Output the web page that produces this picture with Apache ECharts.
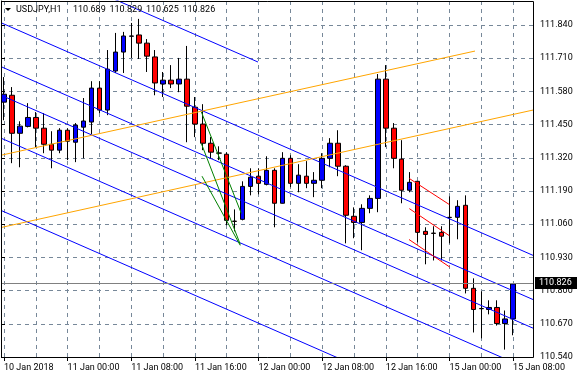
<!DOCTYPE html>
<html>
<head>
<meta charset="utf-8">
<script src="https://cdn.jsdelivr.net/npm/echarts@6/dist/echarts.min.js"></script>
<style>html,body{margin:0;padding:0;background:#fff}#c{width:577px;height:379px}</style>
</head>
<body>
<div id="c"></div>
<script>
const symbolName = 'USDJPY,H1';
const categories = [
'10 Jan 2018','10 Jan 17:00','10 Jan 18:00','10 Jan 19:00','10 Jan 20:00','10 Jan 21:00','10 Jan 22:00','10 Jan 23:00',
'11 Jan 00:00','11 Jan 01:00','11 Jan 02:00','11 Jan 03:00','11 Jan 04:00','11 Jan 05:00','11 Jan 06:00','11 Jan 07:00',
'11 Jan 08:00','11 Jan 09:00','11 Jan 10:00','11 Jan 11:00','11 Jan 12:00','11 Jan 13:00','11 Jan 14:00','11 Jan 15:00',
'11 Jan 16:00','11 Jan 17:00','11 Jan 18:00','11 Jan 19:00','11 Jan 20:00','11 Jan 21:00','11 Jan 22:00','11 Jan 23:00',
'12 Jan 00:00','12 Jan 01:00','12 Jan 02:00','12 Jan 03:00','12 Jan 04:00','12 Jan 05:00','12 Jan 06:00','12 Jan 07:00',
'12 Jan 08:00','12 Jan 09:00','12 Jan 10:00','12 Jan 11:00','12 Jan 12:00','12 Jan 13:00','12 Jan 14:00','12 Jan 15:00',
'12 Jan 16:00','12 Jan 17:00','12 Jan 18:00','12 Jan 19:00','12 Jan 20:00','12 Jan 21:00','12 Jan 22:00','12 Jan 23:00',
'15 Jan 00:00','15 Jan 01:00','15 Jan 02:00','15 Jan 03:00','15 Jan 04:00','15 Jan 05:00','15 Jan 06:00','15 Jan 07:00',
'15 Jan 08:00','',''
];
const openP = [
111.538,111.565,111.416,111.443,111.478,111.436,111.373,111.350,111.428,111.381,
111.440,111.460,111.593,111.507,111.660,111.734,111.796,111.801,111.769,111.715,
111.609,111.624,111.609,111.628,111.518,111.452,111.377,111.339,111.334,111.072,
111.079,111.208,111.248,111.216,111.271,111.142,111.318,111.220,111.248,111.220,
111.232,111.318,111.377,111.287,111.091,111.067,111.122,111.161,111.628,111.436,
111.315,111.193,111.228,111.032,111.025,111.028,111.087,111.087,111.134,110.809,
110.730,110.726,110.734,110.671,110.689];
const highP = [
111.636,111.597,111.463,111.534,111.499,111.495,111.424,111.436,111.436,111.456,
111.554,111.620,111.620,111.742,111.809,111.813,111.848,111.864,111.785,111.742,
111.656,111.683,111.711,111.758,111.558,111.530,111.401,111.365,111.342,111.118,
111.228,111.279,111.279,111.326,111.279,111.342,111.330,111.295,111.307,111.264,
111.338,111.397,111.428,111.291,111.126,111.138,111.173,111.648,111.683,111.456,
111.389,111.264,111.228,111.048,111.052,111.052,111.169,111.154,111.173,110.848,
110.797,110.762,110.762,110.722,110.829];
const lowP = [
111.467,111.299,111.283,111.439,111.362,111.338,111.279,111.338,111.311,111.303,
111.318,111.413,111.495,111.487,111.652,111.652,111.711,111.707,111.656,111.565,
111.558,111.593,111.577,111.381,111.401,111.350,111.318,111.311,111.056,111.032,
111.075,111.173,111.177,111.212,111.048,111.141,111.205,111.185,111.201,111.166,
111.201,111.283,111.248,110.985,111.005,110.958,111.103,111.107,111.362,111.279,
111.142,111.185,110.989,110.903,110.918,110.918,110.985,111.001,110.789,110.636,
110.613,110.707,110.663,110.569,110.625];
const closeP = [
111.569,111.416,111.444,111.478,111.436,111.373,111.350,111.428,111.385,111.448,
111.464,111.593,111.507,111.667,111.734,111.797,111.797,111.769,111.718,111.613,
111.624,111.609,111.628,111.522,111.452,111.377,111.342,111.338,111.075,111.071,
111.208,111.244,111.220,111.271,111.142,111.318,111.220,111.252,111.220,111.232,
111.318,111.377,111.287,111.095,111.067,111.122,111.161,111.628,111.436,111.318,
111.193,111.224,111.028,111.020,111.024,111.013,111.086,111.130,110.809,110.726,
110.729,110.734,110.671,110.689,110.826];
const yTicks = ['110.540','110.670','110.800','110.930','111.060','111.190','111.320','111.450','111.580','111.710','111.840'];
const yMin = 110.540, yMax = 111.934, yStep = 0.13;
// drawn objects: [barIndex, price] endpoints
const blueLines = [
  [[0,112.135],[32.125,111.695]],
  [[0,111.849],[66.5,110.938]],
  [[0,111.677],[66.5,110.765]],
  [[0,111.565],[66.5,110.653]],
  [[0,111.397],[66.5,110.485]],
  [[0,111.114],[66.5,110.202]]
];
const orangeLines = [
  [[0,111.330],[59.25,111.738]],
  [[0,111.047],[66.5,111.507]]
];
const greenLines = [
  [[25.04,111.500],[30.04,111.102]],
  [[25.04,111.376],[29.91,110.981]],
  [[25.125,111.248],[29.91,110.977]]
];
const redLines = [
  [[51.04,111.239],[56.04,111.137]],
  [[51.04,111.121],[56.04,111.015]],
  [[51.0,111.000],[56.1,110.892]]
];

const FONT = 'Roboto';
const GRIDC = '#778899';
const candleData = openP.map((o,i)=>[o, closeP[i], lowP[i], highP[i]]);
const last = openP.length - 1;
const headerVals = [openP[last], highP[last], lowP[last], closeP[last]].map(v=>v.toFixed(3));

function lineSeries(lines, color, withMark) {
  return lines.map((pts, k) => {
    const s = {
      type:'line', xAxisIndex:1, yAxisIndex:1, data:pts, showSymbol:false, symbol:'none',
      clip:true, silent:true, z:4, animation:false,
      lineStyle:{color:color, width:1}
    };
    if (withMark && k === 1) {
      s.markLine = {
        silent:true, symbol:'none', animation:false,
        lineStyle:{color:'#808080', type:'solid', width:1},
        label:{show:true, position:'end', formatter: closeP[last].toFixed(3), backgroundColor:'#000', color:'#fff',
               fontSize:9, fontFamily:FONT, padding:[2,6,1,4], distance:2},
        data:[{yAxis: closeP[last]}]
      };
    }
    return s;
  });
}

const headerGraphics = [
  {type:'text', z:100, silent:true, left:16, top:5, style:{text:symbolName, font:'9px ' + FONT, fill:'#000'}}
].concat(headerVals.map((t,k)=>({
  type:'text', z:100, silent:true, left:73 + 36.5*k, top:5, style:{text:t, font:'9px ' + FONT, fill:'#000'}
})));

const chart = echarts.init(document.getElementById('c'), null, {renderer:'canvas'});
chart.setOption({
  animation:false,
  backgroundColor:'#fff',
  grid:[
    {left:-3, top:1, width:536, height:356},
    {left:1, top:1, width:532, height:356}
  ],
  xAxis:[
    {type:'category', gridIndex:0, data:categories, boundaryGap:true,
     axisLine:{show:false},
     axisTick:{show:true, alignWithLabel:true, interval:7, length:4, lineStyle:{color:'#000'}},
     axisLabel:{interval:7, align:'left', margin:6, fontSize:9, fontFamily:FONT, color:'#000'},
     splitLine:{show:true, interval:3, alignWithLabel:true, lineStyle:{color:GRIDC, width:1, type:[4,4]}}},
    {type:'value', gridIndex:1, min:0, max:66.5, interval:4,
     axisLine:{show:false}, axisTick:{show:false}, axisLabel:{show:false},
     splitLine:{show:false}}
  ],
  yAxis:[
    {type:'value', gridIndex:0, min:yMin, max:yMax, show:false},
    {type:'value', gridIndex:1, position:'right', min:yMin, max:yMax, interval:yStep,
     axisLine:{show:true, lineStyle:{color:'#000'}},
     axisTick:{show:true, length:4, lineStyle:{color:'#000'}},
     axisLabel:{margin:7, fontSize:9, fontFamily:FONT, color:'#000',
       formatter:(v)=>{const s=v.toFixed(3); return yTicks.includes(s)?s:'';}},
     splitLine:{show:true, lineStyle:{color:GRIDC, width:1, type:[4,4]}}}
  ],
  series:[
    {type:'candlestick', xAxisIndex:0, yAxisIndex:0, data:candleData, barWidth:5, z:2,
     itemStyle:{color:'#0000ff', color0:'#ff0000', borderColor:'#000', borderColor0:'#000', borderColorDoji:'#000', borderWidth:1}},
    ...lineSeries(blueLines, '#0000ff', true),
    ...lineSeries(orangeLines, '#ffa500', false),
    ...lineSeries(greenLines, '#008000', false),
    ...lineSeries(redLines, '#ff0000', false)
  ],
  graphic:[
    {type:'rect', z:100, silent:true, shape:{x:1.5, y:1.5, width:532, height:356},
     style:{fill:'transparent', stroke:'#000', lineWidth:1}},
    {type:'polygon', z:100, silent:true, shape:{points:[[5,8],[11,8],[8,11]]}, style:{fill:'#000'}}
  ].concat(headerGraphics)
});
</script>
</body>
</html>
